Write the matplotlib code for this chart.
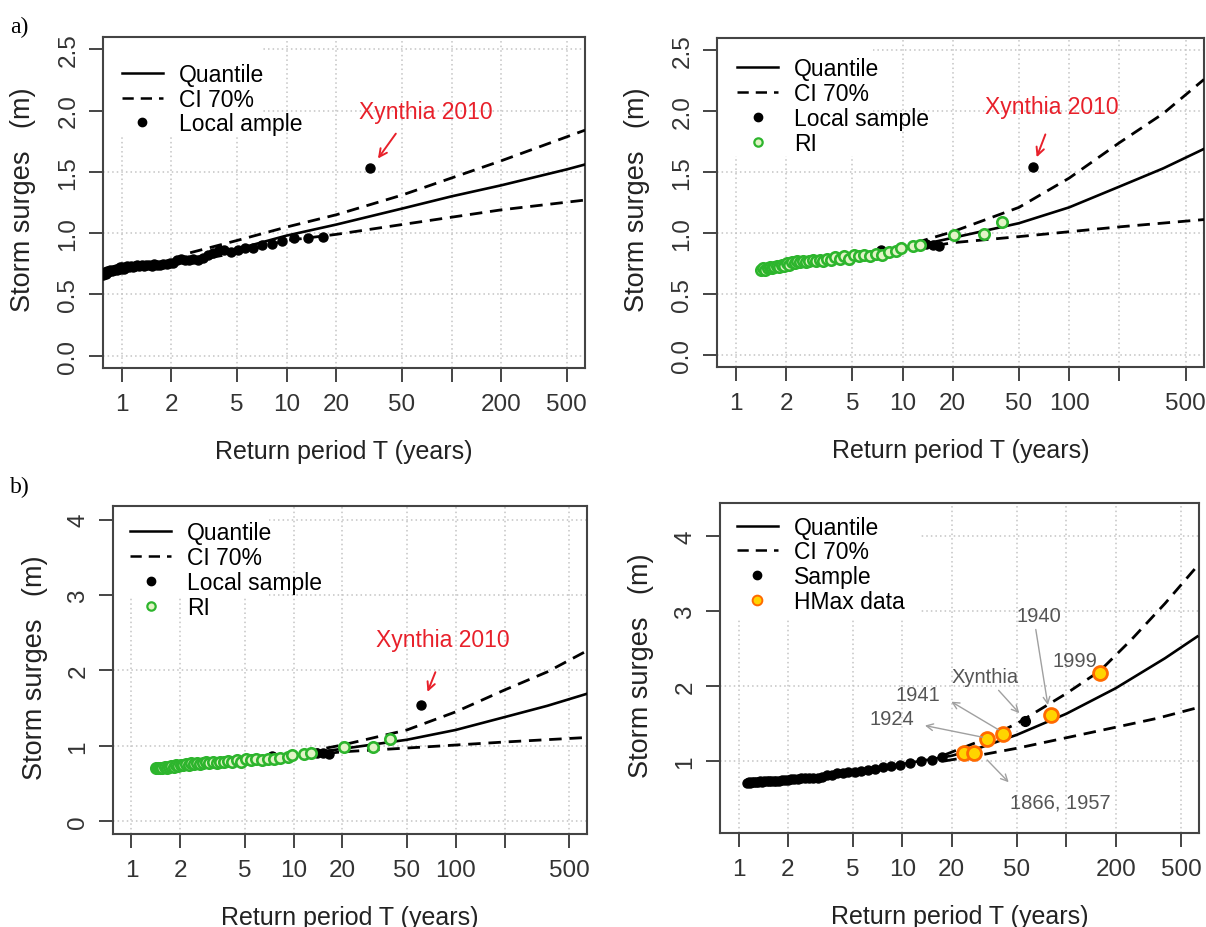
import matplotlib
matplotlib.use("Agg")
import matplotlib.pyplot as plt
from matplotlib.lines import Line2D
from matplotlib.patches import Rectangle

plt.rcParams['font.family'] = ['Liberation Sans', 'DejaVu Sans']

# ---- a) left : local fit ----
a1_sample_T = [0.77, 0.78, 0.79, 0.80, 0.81, 0.82, 0.84, 0.85, 0.87, 0.88, 0.90, 0.92,
               0.93, 0.95, 0.97, 0.99, 1.01, 1.03, 1.06, 1.08, 1.11, 1.14, 1.17, 1.20,
               1.24, 1.28, 1.32, 1.36, 1.41, 1.46, 1.52, 1.58, 1.64, 1.71, 1.79, 1.87,
               1.96, 2.06, 2.17, 2.29, 2.42, 2.56, 2.72, 2.90, 3.10, 3.33, 3.58, 3.87,
               4.20, 4.60, 5.05, 5.60, 6.25, 7.10, 8.10, 9.40, 11.1, 13.5, 16.7]
a1_sample_v = [0.66, 0.67, 0.68, 0.67, 0.69, 0.68, 0.69, 0.70, 0.69, 0.70, 0.70, 0.71,
               0.70, 0.71, 0.72, 0.71, 0.72, 0.71, 0.72, 0.73, 0.72, 0.73, 0.72, 0.73,
               0.74, 0.73, 0.74, 0.73, 0.74, 0.74, 0.73, 0.75, 0.74, 0.74, 0.75, 0.75,
               0.76, 0.76, 0.78, 0.79, 0.78, 0.78, 0.79, 0.78, 0.80, 0.82, 0.84, 0.86,
               0.86, 0.85, 0.86, 0.88, 0.88, 0.90, 0.91, 0.94, 0.96, 0.96, 0.97]
a1_xynthia = (32.0, 1.53)
a1_q_T = [0.77, 1, 2, 5, 10, 20, 50, 100, 200, 500, 645]
a1_q_v = [0.66, 0.69, 0.76, 0.87, 0.98, 1.07, 1.20, 1.30, 1.39, 1.52, 1.56]
a1_up_T = [2.6, 5, 10, 20, 50, 100, 200, 645]
a1_up_v = [0.84, 0.94, 1.05, 1.15, 1.31, 1.45, 1.59, 1.84]
a1_lo_T = [2.6, 5, 10, 20, 50, 100, 200, 645]
a1_lo_v = [0.77, 0.84, 0.94, 0.99, 1.07, 1.13, 1.19, 1.27]

# ---- a) right / b) left : regional (RI) fit ----
ri_T = [1.42, 1.46, 1.50, 1.55, 1.60, 1.65, 1.70, 1.76, 1.82, 1.88, 1.95, 2.02, 2.09,
        2.17, 2.25, 2.34, 2.43, 2.53, 2.64, 2.76, 2.89, 3.03, 3.18, 3.35, 3.53, 3.73,
        3.95, 4.19, 4.46, 4.76, 5.09, 5.46, 5.88, 6.36, 6.91, 7.55, 8.30, 9.20, 9.80,
        11.6, 12.8, 20.5, 30.8, 39.3]
ri_v = [0.70, 0.71, 0.70, 0.71, 0.72, 0.71, 0.72, 0.73, 0.72, 0.74, 0.73, 0.75, 0.74,
        0.76, 0.75, 0.77, 0.76, 0.77, 0.76, 0.77, 0.78, 0.77, 0.78, 0.77, 0.79, 0.78,
        0.80, 0.79, 0.81, 0.79, 0.82, 0.81, 0.82, 0.81, 0.83, 0.82, 0.84, 0.85, 0.88,
        0.89, 0.90, 0.98, 0.99, 1.09]
ri_local_T = [7.4, 13.9, 15.2, 16.6]
ri_local_v = [0.86, 0.91, 0.90, 0.89]
ri_xynthia = (61.0, 1.54)
ri_q_T = [1.42, 2, 5, 10, 20, 50, 100, 200, 367, 645]
ri_q_v = [0.70, 0.74, 0.80, 0.87, 0.96, 1.08, 1.21, 1.38, 1.53, 1.69]
ri_up_T = [12, 20, 50, 100, 200, 367, 645]
ri_up_v = [0.92, 1.01, 1.21, 1.45, 1.74, 1.98, 2.26]
ri_lo_T = [12, 20, 50, 100, 200, 645]
ri_lo_v = [0.87, 0.92, 0.97, 1.01, 1.05, 1.11]

# ---- b) right : fit with historical maxima ----
b2_sample_T = [1.12, 1.15, 1.18, 1.21, 1.24, 1.27, 1.31, 1.35, 1.39, 1.43, 1.48, 1.53,
               1.58, 1.64, 1.70, 1.77, 1.84, 1.92, 2.00, 2.09, 2.19, 2.30, 2.42, 2.55,
               2.70, 2.86, 3.04, 3.24, 3.46, 3.71, 3.99, 4.31, 4.68, 5.10, 5.59, 6.16,
               6.83, 7.62, 8.57, 9.72, 11.1, 12.9, 15.1, 17.5]
b2_sample_v = [0.71, 0.72, 0.71, 0.72, 0.72, 0.72, 0.72, 0.73, 0.72, 0.73, 0.73, 0.73,
               0.74, 0.74, 0.74, 0.74, 0.75, 0.75, 0.75, 0.76, 0.76, 0.76, 0.77, 0.77,
               0.77, 0.78, 0.78, 0.79, 0.81, 0.82, 0.84, 0.84, 0.85, 0.86, 0.87, 0.88,
               0.90, 0.92, 0.94, 0.95, 0.97, 1.00, 1.02, 1.06]
b2_xynthia = (56.0, 1.53)
hmax_T = [23.8, 27.5, 32.9, 40.8, 81.0, 161.0]
hmax_v = [1.11, 1.11, 1.29, 1.36, 1.61, 2.18]
b2_q_T = [1.1, 2, 5, 10, 20, 30, 50, 100, 200, 400, 630]
b2_q_v = [0.72, 0.76, 0.85, 0.96, 1.07, 1.18, 1.35, 1.63, 1.97, 2.37, 2.66]
b2_up_T = [18, 30, 50, 100, 160, 250, 400, 630]
b2_up_v = [1.08, 1.27, 1.50, 1.90, 2.20, 2.62, 3.10, 3.60]
b2_lo_T = [18, 30, 50, 100, 200, 360, 630]
b2_lo_v = [1.00, 1.08, 1.17, 1.31, 1.45, 1.57, 1.71]

tick_T = [1, 2, 5, 10, 20, 50, 100, 200, 500]

W, H = 1206, 928
fig = plt.figure(figsize=(W / 100, H / 100), dpi=100)

DASH = (0, (4.5, 2.8))
GREEN_EDGE = '#2db52d'
GREEN_FACE = '#e2f4c6'
TICK_FS = 17.5
LAB_FS = 18


def px_rect(left, top, right, bottom):
    return [left / W, 1 - bottom / H, (right - left) / W, (bottom - top) / H]


def make_axes(rect, ylim, yticks, ylabels, skip_x, white_box):
    ax = fig.add_axes(rect)
    ax.set_xscale('log')
    ax.set_xlim(0.77, 645)
    ax.set_ylim(*ylim)
    ax.minorticks_off()
    ax.set_xticks(tick_T)
    ax.set_xticklabels(['' if t in skip_x else str(t) for t in tick_T])
    ax.set_yticks(yticks)
    ax.set_yticklabels(ylabels, rotation=90, va='center', ha='right')
    ax.tick_params(axis='both', length=10, width=1.4, color='#444',
                   labelsize=TICK_FS, labelcolor='#333', pad=7)
    ax.tick_params(axis='x', pad=8)
    for s in ax.spines.values():
        s.set_linewidth(1.5)
        s.set_color('#444')
    ax.set_axisbelow(True)
    ax.grid(True, linestyle=(0, (1, 2)), color='#c4c4c4', lw=1.1)
    # white legend background hiding the grid behind it
    ax.add_patch(Rectangle((0, white_box[1]), white_box[0], 1 - white_box[1],
                           transform=ax.transAxes, facecolor='white',
                           edgecolor='none', zorder=1))
    ax.set_xlabel('Return period T (years)', fontsize=LAB_FS, color='#222',
                  va='center')
    ax.set_ylabel('Storm surges   (m)', fontsize=LAB_FS + 1.5, color='#222',
                  va='center')
    ax.xaxis.set_label_coords(0.5, -0.252)
    ax.yaxis.set_label_coords(-0.165, 0.51)
    return ax


def legend(ax, handles, labels, anchor):
    ax.legend(handles, labels, loc='upper left', bbox_to_anchor=anchor,
              frameon=False, fontsize=16.5, handlelength=1.8, handletextpad=0.7,
              labelspacing=0.08, borderpad=0, borderaxespad=0).set_zorder(6)


def curves(ax, qT, qv, uT, uv, lT, lv):
    ax.plot(qT, qv, color='black', lw=1.9, zorder=3)
    ax.plot(uT, uv, color='black', lw=2.0, linestyle=DASH, zorder=3)
    ax.plot(lT, lv, color='black', lw=2.0, linestyle=DASH, zorder=3)


h_q = Line2D([], [], color='black', lw=1.8)
h_ci = Line2D([], [], color='black', lw=1.8, linestyle=DASH)
h_pt = Line2D([], [], color='black', marker='o', ms=6, linestyle='none')
h_ri = Line2D([], [], color=GREEN_EDGE, marker='o', ms=6, mfc=GREEN_FACE,
              mec=GREEN_EDGE, mew=1.6, linestyle='none')
h_hm = Line2D([], [], marker='o', ms=7, mfc='#ffd400', mec='#ff6a00', mew=1.4,
              linestyle='none')

y_a = [0.0, 0.5, 1.0, 1.5, 2.0, 2.5]
y_a_lab = ['0.0', '0.5', '1.0', '1.5', '2.0', '2.5']

# a) left
ax = make_axes(px_rect(103, 38, 585, 369), (-0.1, 2.6), y_a, y_a_lab, [100],
               (0.33, 0.70))
curves(ax, a1_q_T, a1_q_v, a1_up_T, a1_up_v, a1_lo_T, a1_lo_v)
ax.plot(a1_sample_T, a1_sample_v, 'o', color='black', ms=6.5, zorder=4)
ax.plot(*a1_xynthia, 'o', color='black', ms=6.5, zorder=4)
ax.text(70, 1.99, 'Xynthia 2010', color='#e8202a', fontsize=16.5, ha='center',
        va='center', zorder=5)
ax.annotate('', xy=(35, 1.59), xytext=(47, 1.83), zorder=5,
            arrowprops=dict(arrowstyle='->', color='#e8202a', lw=1.4,
                            mutation_scale=14))
legend(ax, [h_q, h_ci, h_pt], ['Quantile', 'CI 70%', 'Local ample'], (0.039, 0.922))

# a) right
ax = make_axes(px_rect(717, 39, 1204, 368), (-0.1, 2.6), y_a, y_a_lab, [200],
               (0.32, 0.64))
curves(ax, ri_q_T, ri_q_v, ri_up_T, ri_up_v, ri_lo_T, ri_lo_v)
ax.plot(ri_local_T, ri_local_v, 'o', color='black', ms=6.5, zorder=4)
ax.plot(ri_T, ri_v, 'o', ms=7.5, mfc=GREEN_FACE, mec=GREEN_EDGE, mew=1.9, zorder=4)
ax.plot(*ri_xynthia, 'o', color='black', ms=6.5, zorder=4)
ax.text(79, 2.04, 'Xynthia 2010', color='#e8202a', fontsize=16.5, ha='center',
        va='center', zorder=5)
ax.annotate('', xy=(63, 1.60), xytext=(73, 1.83), zorder=5,
            arrowprops=dict(arrowstyle='->', color='#e8202a', lw=1.4,
                            mutation_scale=14))
legend(ax, [h_q, h_ci, h_pt, h_ri], ['Quantile', 'CI 70%', 'Local sample', 'RI'],
       (0.041, 0.942))

# b) left
ax = make_axes(px_rect(113, 507, 587, 835), (-0.17, 4.18), [0, 1, 2, 3, 4],
               ['0', '1', '2', '3', '4'], [200], (0.33, 0.726))
curves(ax, ri_q_T, ri_q_v, ri_up_T, ri_up_v, ri_lo_T, ri_lo_v)
ax.plot(ri_local_T, ri_local_v, 'o', color='black', ms=6.5, zorder=4)
ax.plot(ri_T, ri_v, 'o', ms=7.5, mfc=GREEN_FACE, mec=GREEN_EDGE, mew=1.9, zorder=4)
ax.plot(*ri_xynthia, 'o', color='black', ms=6.5, zorder=4)
ax.text(83, 2.41, 'Xynthia 2010', color='#e8202a', fontsize=16.5, ha='center',
        va='center', zorder=5)
ax.annotate('', xy=(66, 1.68), xytext=(76, 2.01), zorder=5,
            arrowprops=dict(arrowstyle='->', color='#e8202a', lw=1.4,
                            mutation_scale=14))
legend(ax, [h_q, h_ci, h_pt, h_ri], ['Quantile', 'CI 70%', 'Local sample', 'RI'],
       (0.036, 0.954))

# b) right
ax = make_axes(px_rect(720, 504, 1199, 834), (0.04, 4.44), [1, 2, 3, 4],
               ['1', '2', '3', '4'], [100], (0.42, 0.65))
curves(ax, b2_q_T, b2_q_v, b2_up_T, b2_up_v, b2_lo_T, b2_lo_v)
ax.plot(b2_sample_T, b2_sample_v, 'o', color='black', ms=6.5, zorder=4)
ax.plot(*b2_xynthia, 'o', color='black', ms=7, zorder=4)
ax.plot(hmax_T, hmax_v, 'o', ms=10, mfc='#ffd400', mec='#ff6a00', mew=2, zorder=4)

gray = '#555555'
arrow_kw = dict(arrowstyle='->', color='#a0a0a0', lw=1.0, mutation_scale=12)
labels_b2 = [
    ('1940', (68, 2.94), (77.6, 1.71), (64.7, 2.79)),
    ('1999', (113, 2.34), None, None),
    ('Xynthia', (32, 2.12), (53, 1.61), (37.6, 1.97)),
    ('1941', (12.5, 1.88), (19.2, 1.81), (39.7, 1.40)),
    ('1924', (8.6, 1.56), (13.2, 1.48), (32, 1.31)),
    ('1866, 1957', (91.7, 0.45), (45.7, 0.69), (32, 1.04)),
]
for txt, pos, head, tail in labels_b2:
    ax.text(pos[0], pos[1], txt, color=gray, fontsize=14.5, ha='center',
            va='center', zorder=5)
    if head is not None:
        ax.annotate('', xy=head, xytext=tail, arrowprops=arrow_kw, zorder=5)
legend(ax, [h_q, h_ci, h_pt, h_hm], ['Quantile', 'CI 70%', 'Sample', 'HMax data'],
       (0.035, 0.962))

# panel letters
fig.text(10 / W, 1 - 33 / H, 'a)', fontsize=17, family='Liberation Serif',
         va='baseline')
fig.text(10 / W, 1 - 493 / H, 'b)', fontsize=17, family='Liberation Serif',
         va='baseline')

# the top of the upper-left figure is trimmed
fig.patches.append(Rectangle((55 / W, 1 - 37 / H), 45 / W, 37 / H,
                             transform=fig.transFigure, facecolor='white',
                             edgecolor='none', zorder=10))

fig.savefig('out.png', dpi=100)
